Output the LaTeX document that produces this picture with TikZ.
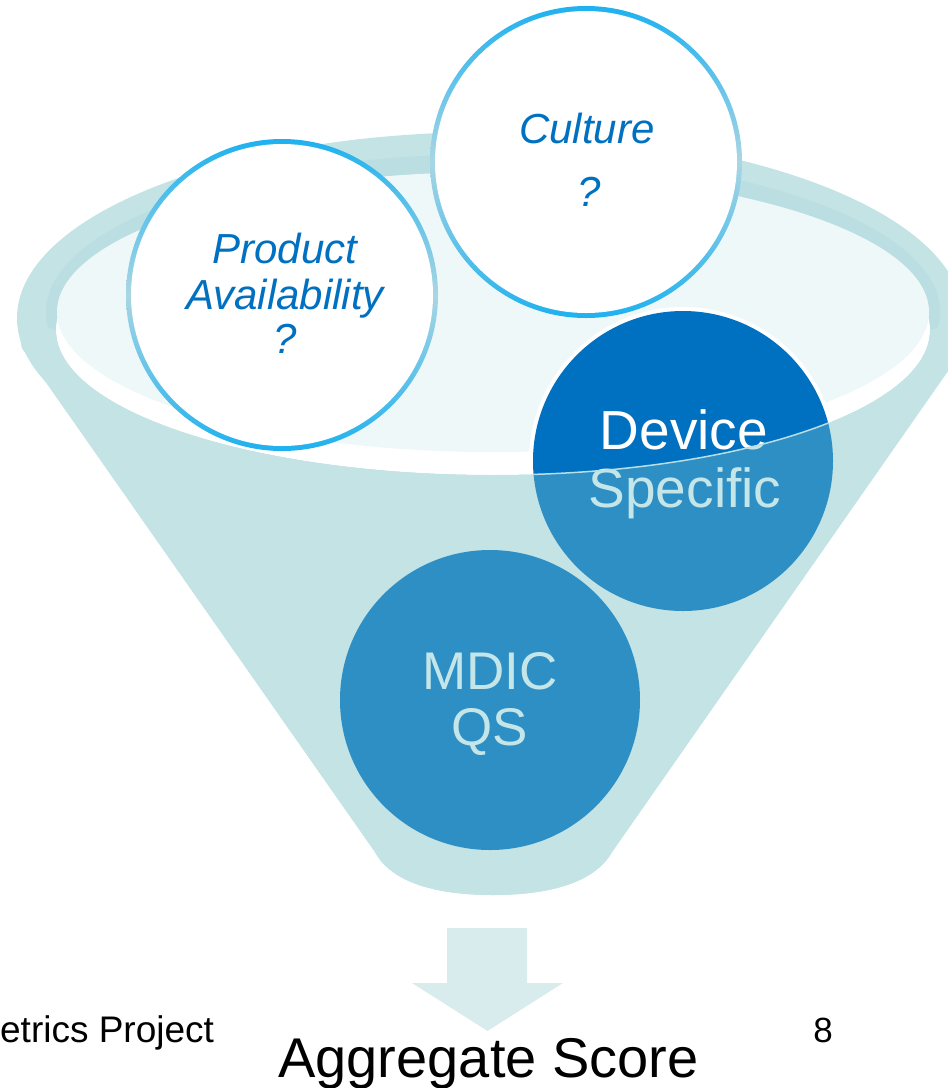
\documentclass[tikz,border=0pt]{standalone}
\usepackage{fontspec}
\setmainfont{Liberation Sans}
\definecolor{funnel}{HTML}{C3E3E5}
\definecolor{funneldark}{HTML}{BADEE1}
\definecolor{bowl}{HTML}{EFF8F8}
\definecolor{deepblue}{HTML}{0070C0}
\definecolor{midblue}{HTML}{2E8FC4}
\definecolor{paletext}{HTML}{C5E6E9}
\definecolor{ringbright}{HTML}{1EB1EF}
\definecolor{ringpale}{HTML}{AAD6E3}
\definecolor{rimline}{HTML}{B9DEE5}
\definecolor{arrowfill}{HTML}{D8ECEE}
\begin{document}
\begin{tikzpicture}[x=1pt,y=-1pt,
  every node/.style={inner sep=0pt,outer sep=0pt},
  qtext/.style={font=\fontsize{42}{42}\selectfont\itshape,text=deepblue,anchor=base},
  bigtext/.style={font=\fontsize{55}{55}\selectfont,anchor=base},
  foottext/.style={font=\fontsize{37}{37}\selectfont,text=black,anchor=base},
  ring/.style={top color=ringbright,bottom color=ringbright,middle color=ringpale}]
\useasboundingbox (0,0) rectangle (948,1088);

% ---- funnel: rim and cone (back) ----
\fill[funnel] (490,318) ellipse[x radius=473pt,y radius=186pt];
\fill[funnel] (17,318) -- (22,348) -- (375,852)
  .. controls (392,884) and (440,895) .. (493,895)
  .. controls (546,895) and (594,884) .. (612,852)
  -- (964,348) -- (963,318) -- cycle;
\fill[funneldark] (493,312) ellipse[x radius=447pt,y radius=158pt];
\fill[white] (493,330) ellipse[x radius=437pt,y radius=145pt];
\fill[bowl] (493,312) ellipse[x radius=436pt,y radius=140pt];

% ---- open question circles ----
\shade[ring] (282,295) circle[radius=156pt];
\fill[white] (282,295) circle[radius=151pt];
\shade[ring] (586,162) circle[radius=156pt];
\fill[white] (586,162) circle[radius=151pt];

\node[qtext] (prod1) at (285,263) {Product};
\node[qtext] (prod2) at (285,309) {Availability};
\node[qtext] (prod3) at (285,353) {?};
\node[qtext] (cult1) at (587,143) {Culture};
\node[qtext] (cult2) at (589,206) {?};

% ---- device specific circle (part above the front of the funnel) ----
\fill[white] (683,461) circle[radius=154pt];
\fill[deepblue] (683,461) circle[radius=150pt];
\node[bigtext,text=white] (dev1) at (684,449) {Device};
\node[bigtext,text=white] (dev2) at (685,507) {Specific};

% ---- front wall of the funnel, tinting what lies behind it ----
\begin{scope}
  \clip (17,318) -- (22,348) -- (375,852)
    .. controls (392,884) and (440,895) .. (493,895)
    .. controls (546,895) and (594,884) .. (612,852)
    -- (964,348) -- (969,318) -- (930,330)
    arc[start angle=0,end angle=-180,x radius=437pt,y radius=145pt] -- cycle;
  \fill[funnel] (0,0) rectangle (948,1088);
  \fill[midblue] (683,461) circle[radius=150pt];
  \fill[midblue] (490,700) circle[radius=150pt];
  \node[bigtext,text=paletext] (dev1f) at (684,449) {Device};
  \node[bigtext,text=paletext] (dev2f) at (685,507) {Specific};
  \node[bigtext,text=paletext,font=\fontsize{53}{53}\selectfont] (mdic1) at (490,689) {MDIC};
  \node[bigtext,text=paletext,font=\fontsize{53}{53}\selectfont] (mdic2) at (490,745) {QS};
\end{scope}

% rim edge seen through the device circle
\begin{scope}
  \clip (683,461) circle[radius=150pt];
  \draw[rimline,line width=1.5pt] (930,330)
    arc[start angle=0,end angle=-180,x radius=437pt,y radius=145pt];
\end{scope}

% ---- output arrow and labels ----
\fill[arrowfill] (447,928) -- (527,928) -- (527,983) -- (563,983)
  -- (487.5,1031) -- (412,983) -- (447,983) -- cycle;
\node[bigtext,text=black,font=\fontsize{56}{56}\selectfont] (agg) at (488.5,1077) {Aggregate Score};
\node[foottext,anchor=base east] (foot) at (214,1042) {etrics Project};
\node[foottext,font=\fontsize{35}{35}\selectfont] (page) at (823,1042) {8};
\end{tikzpicture}
\end{document}
